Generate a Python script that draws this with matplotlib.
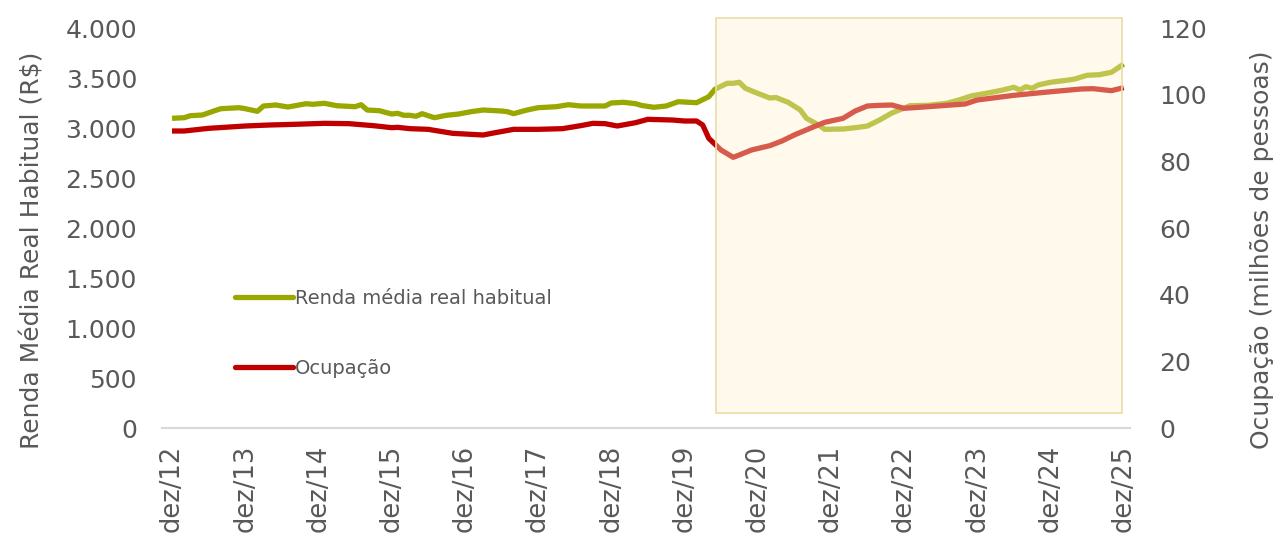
import matplotlib.pyplot as plt
from matplotlib.patches import Rectangle
from matplotlib.lines import Line2D

# months counted from dez/2012
meses_renda = [0, 2, 3, 5, 7, 8, 11, 12, 14, 15, 17, 19, 22, 23, 25, 27, 30, 31, 32, 34,
               36, 37, 38, 39, 40, 41, 43, 45, 47, 49, 51, 54, 55, 56, 58, 60, 63, 65, 67, 71,
               72, 74, 76, 77, 79, 81, 83, 86, 88, 89, 91, 92, 93, 94, 96, 98, 99, 101, 103, 104,
               106, 107, 110, 112, 114, 116, 118, 121, 124, 127, 129, 131, 134, 136, 138, 139, 140, 141, 142, 144,
               147, 148, 150, 152, 154, 155, 156]
renda = [3097, 3103, 3123, 3130, 3173, 3193, 3203, 3193, 3167, 3220, 3230, 3210, 3243, 3237, 3247, 3223, 3213, 3233, 3180, 3173,
         3140, 3147, 3127, 3127, 3117, 3143, 3103, 3127, 3140, 3163, 3180, 3170, 3163, 3143, 3177, 3203, 3213, 3233, 3220, 3220,
         3250, 3257, 3243, 3225, 3207, 3220, 3263, 3253, 3313, 3387, 3447, 3447, 3457, 3397, 3347, 3300, 3305, 3257, 3180, 3097,
         3030, 2987, 2990, 3003, 3020, 3080, 3150, 3223, 3227, 3247, 3280, 3320, 3353, 3377, 3407, 3380, 3413, 3397, 3430, 3457,
         3480, 3490, 3527, 3533, 3557, 3597, 3640]

meses_ocup = [0, 2, 6, 12, 16, 20, 25, 29, 33, 36, 37, 39, 42, 46, 51, 53, 56, 60, 64, 67,
              69, 71, 73, 76, 78, 82, 84, 86, 87, 88, 90, 92, 93, 95, 98, 100, 102, 105, 107, 110,
              112, 114, 116, 118, 120, 124, 130, 132, 138, 143, 149, 151, 154, 156]
ocupacao = [89.1, 89.1, 89.9, 90.6, 90.9, 91.1, 91.4, 91.3, 90.7, 90.1, 90.2, 89.8, 89.6, 88.4, 87.9, 88.6, 89.6, 89.6, 89.8, 90.7,
            91.4, 91.3, 90.6, 91.6, 92.6, 92.4, 92.1, 92.1, 90.9, 86.9, 83.4, 81.2, 81.9, 83.4, 84.7, 86.1, 87.9, 90.2, 91.7, 92.9,
            95.1, 96.6, 96.8, 96.9, 95.9, 96.4, 97.2, 98.4, 99.8, 100.7, 101.7, 101.8, 101.2, 102.1]

tick_meses = list(range(0, 157, 12))
tick_labels = ['dez/%02d' % a for a in range(12, 26)]
left_ticks = list(range(0, 4001, 500))
left_labels = ['0', '500', '1.000', '1.500', '2.000', '2.500', '3.000', '3.500', '4.000']
right_ticks = list(range(0, 121, 20))

verde = '#99a800'
vermelho = '#c00000'
cinza = '#595959'

plt.rcParams['font.family'] = ['DejaVu Sans']

fig = plt.figure(figsize=(12.77, 5.5), dpi=100)
W, H = 1277, 550
ax1 = fig.add_axes([162 / W, (550 - 428) / H, 968 / W, 400 / H])
ax2 = ax1.twinx()

ax1.plot(meses_renda, renda, color=verde, lw=3.8, solid_capstyle='butt', zorder=2)
ax2.plot(meses_ocup, ocupacao, color=vermelho, lw=3.8, solid_capstyle='butt', zorder=2)

ax1.set_xlim(-1.64, 157.05)
ax1.set_ylim(0, 4000)
ax2.set_ylim(0, 120)

# highlighted period (pandemic onward)
x0, x1 = 89.2, 155.7
ax2.add_patch(Rectangle((x0, 4.5), x1 - x0, 118.5, facecolor='#fff2cc', alpha=0.38,
                        edgecolor='none', zorder=5, clip_on=False))
ax2.add_patch(Rectangle((x0, 4.5), x1 - x0, 118.5, fill=False,
                        edgecolor='#eadcaa', lw=1.2, zorder=6, clip_on=False))

for ax in (ax1, ax2):
    for s in ax.spines.values():
        s.set_visible(False)
ax1.spines['bottom'].set_visible(True)
ax1.spines['bottom'].set_color('#d9d9d9')
ax1.spines['bottom'].set_linewidth(1.5)

ax1.set_xticks(tick_meses)
ax1.set_xticklabels(tick_labels, rotation=90, fontsize=18.5, color=cinza)
ax1.set_yticks(left_ticks)
ax1.set_yticklabels(left_labels, fontsize=18, color=cinza)
ax2.set_yticks(right_ticks)
ax2.set_yticklabels([str(t) for t in right_ticks], fontsize=18, color=cinza)
ax1.tick_params(axis='x', length=0, pad=12)
ax1.tick_params(axis='y', length=0, pad=18)
ax2.tick_params(axis='y', length=0, pad=21)

ax1.set_ylabel('Renda Média Real Habitual (R$)', fontsize=18, color=cinza)
ax1.yaxis.set_label_coords(-0.121, 0.445)
ax2.set_ylabel('Ocupação (milhões de pessoas)', fontsize=18, color=cinza, rotation=90)
ax2.yaxis.set_label_coords(1.124, 0.445)

handles = [Line2D([], [], color=verde, lw=3.8, solid_capstyle='round'),
           Line2D([], [], color=vermelho, lw=3.8, solid_capstyle='round')]
leg = ax2.legend(handles, ['Renda média real habitual', 'Ocupação'], loc='upper left',
                 bbox_to_anchor=((235 - 162) / 968, (428 - 289) / 400), frameon=False,
                 fontsize=14, handlelength=3.0, handletextpad=0.1, labelspacing=2.6,
                 borderaxespad=0, borderpad=0)
for t in leg.get_texts():
    t.set_color(cinza)
leg.set_zorder(10)

fig.savefig('out.png', dpi=100)
